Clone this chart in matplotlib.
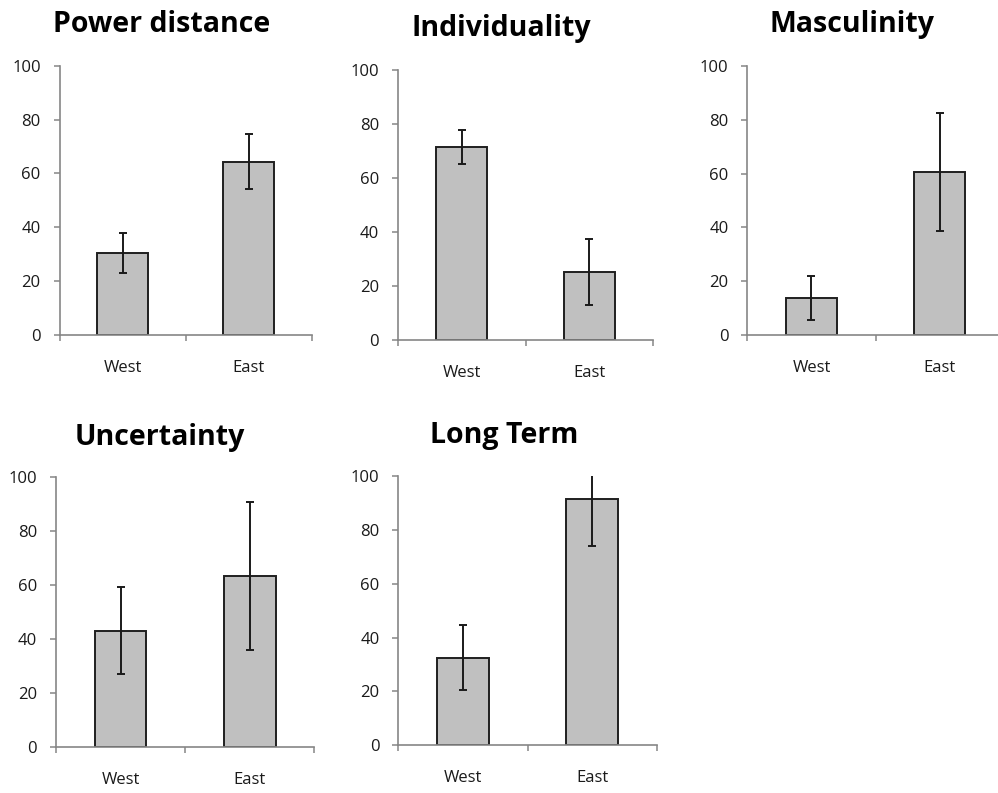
import matplotlib
matplotlib.use("Agg")
import matplotlib.pyplot as plt
import numpy as np

plt.rcParams['font.family'] = ['Open Sans', 'DejaVu Sans']

categories = ["West", "East"]
titles = ["Power distance", "Individuality", "Masculinity", "Uncertainty", "Long Term"]
power_vals = [30.3, 64.4]
power_err = [7.4, 10.2]
indiv_vals = [71.4, 25.1]
indiv_err = [6.3, 12.2]
masc_vals = [13.9, 60.6]
masc_err = [8.2, 22.0]
uncert_vals = [43.1, 63.4]
uncert_err = [16.0, 27.6]
longterm_vals = [32.5, 91.6]
longterm_err = [12.1, 17.6]
yticks = [0, 20, 40, 60, 80, 100]

values = [power_vals, indiv_vals, masc_vals, uncert_vals, longterm_vals]
errors = [power_err, indiv_err, masc_err, uncert_err, longterm_err]

W, H = 998, 793
fig = plt.figure(figsize=(W / 100, H / 100), dpi=100)

# axes boxes in pixels: x0, x1, ytop, y0
boxes = [
    (59.5, 311.7, 65.7, 335.0),
    (397.7, 653.3, 70.0, 340.0),
    (747.3, 1004.0, 66.0, 335.0),
    (56.0, 314.3, 477.3, 746.7),
    (398.3, 656.7, 476.0, 745.3),
]
# title centre x, baseline y in pixels
title_pos = [(162, 32), (501, 36), (852.5, 32), (159.5, 445), (504, 443.3)]

axis_gray = "#868686"
for i in range(5):
    x0, x1, yt, yb = boxes[i]
    ax = fig.add_axes([x0 / W, 1 - yb / H, (x1 - x0) / W, (yb - yt) / H])
    xpos = np.arange(len(categories)) + 0.5
    ax.bar(xpos, values[i], width=0.4, color="#C0C0C0", edgecolor="#1f1f1f",
           linewidth=1.4, zorder=2)
    ax.errorbar(xpos, values[i], yerr=errors[i], fmt="none", ecolor="#1a1a1a",
                elinewidth=1.4, capsize=3.2, capthick=1.4, zorder=3)
    ax.set_xlim(0, 2)
    ax.set_ylim(0, 100)
    ax.set_yticks(yticks)
    ax.set_yticklabels([str(v) for v in yticks])
    ax.set_xticks([0, 1, 2])
    ax.set_xticklabels([])
    ax.set_xticks(xpos, minor=True)
    ax.set_xticklabels(categories, minor=True)
    for s in ["top", "right"]:
        ax.spines[s].set_visible(False)
    for s in ["left", "bottom"]:
        ax.spines[s].set_color(axis_gray)
        ax.spines[s].set_linewidth(1.2)
    ax.tick_params(axis="y", direction="out", length=4.5, width=1.1,
                   color=axis_gray, labelsize=12, pad=9, labelcolor="#1a1a1a")
    ax.tick_params(axis="x", which="major", direction="out", length=4.5,
                   width=1.1, color=axis_gray)
    ax.tick_params(axis="x", which="minor", length=0, labelsize=12, pad=18,
                   labelcolor="#1a1a1a")
    tx, ty = title_pos[i]
    fig.text(tx / W, 1 - ty / H, titles[i], ha="center", va="baseline",
             fontsize=20.5, fontweight="bold", color="black")

fig.savefig("out.png", dpi=100)
